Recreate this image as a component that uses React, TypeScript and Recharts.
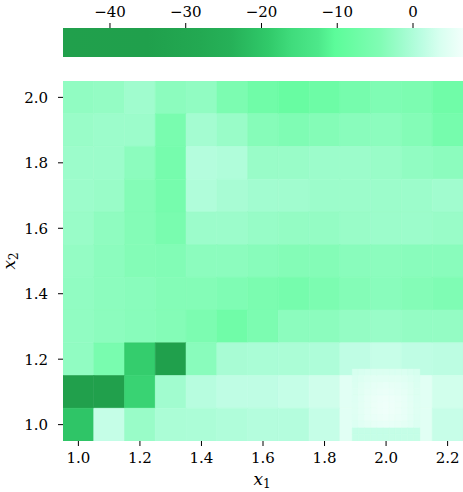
import React from 'react';
import { ScatterChart, Scatter, XAxis, YAxis, ReferenceArea } from 'recharts';

// coarse grid (cell centres)
const x1Centers = [1.0, 1.1, 1.2, 1.3, 1.4, 1.5, 1.6, 1.7, 1.8, 1.9, 2.0, 2.1, 2.2];
const x2Centers = [2.0, 1.9, 1.8, 1.7, 1.6, 1.5, 1.4, 1.3, 1.2, 1.1, 1.0];
const zGrid = [
  [-2.8, -2.5, -1.3, -3.2, -2.8, -5.0, -7.0, -8.3, -7.5, -6.0, -4.5, -5.0, -7.0],
  [-2.0, -1.7, -1.7, -5.5, -1.0, -2.0, -3.8, -4.5, -4.0, -3.5, -3.2, -4.0, -6.0],
  [-1.7, -1.7, -3.2, -6.0, 0.5, 0.2, -2.0, -2.0, -1.7, -1.7, -2.0, -2.8, -3.2],
  [-1.7, -2.0, -4.0, -6.0, 0.2, -0.6, -1.1, -1.2, -1.7, -1.7, -1.7, -1.7, -1.2],
  [-2.0, -3.0, -4.0, -5.5, -1.7, -1.7, -2.2, -2.5, -2.5, -2.0, -1.7, -1.7, -2.0],
  [-2.5, -3.2, -4.0, -4.2, -3.2, -3.2, -3.6, -4.0, -4.0, -3.5, -3.2, -3.5, -3.5],
  [-2.8, -3.2, -3.5, -4.0, -4.0, -4.5, -5.2, -6.0, -5.0, -4.0, -3.5, -4.0, -4.5],
  [-2.8, -3.2, -3.6, -4.0, -5.0, -7.0, -5.0, -3.2, -3.2, -2.5, -2.0, -2.5, -2.5],
  [-2.8, -5.5, -18.5, -38.0, -3.5, -0.6, -0.4, -0.3, 0.0, 1.5, 2.2, 1.5, 1.2],
  [-44.0, -44.0, -17.5, -1.2, 0.8, 1.5, 1.5, 2.0, 2.8, 4.6, 4.6, 4.6, 3.0],
  [-20.0, 2.0, -2.0, -0.3, -0.2, 0.2, 0.5, 0.5, 2.0, 4.6, 4.6, 4.6, 2.2],
];

// refined patch around (2.0, 1.05)
const fineX1 = [1.9, 1.92, 1.94, 1.96, 1.98, 2.0, 2.02, 2.04, 2.06, 2.08, 2.1];
const fineX2 = [1.16, 1.14, 1.12, 1.1, 1.08, 1.06, 1.04, 1.02, 1.0, 0.98, 0.96];
const zFine = [
  [3.4, 3.6, 3.8, 3.9, 4.0, 4.0, 4.0, 3.9, 3.8, 3.6, 3.4],
  [3.8, 4.2, 4.5, 4.7, 4.8, 4.8, 4.8, 4.7, 4.5, 4.2, 3.8],
  [4.0, 4.5, 4.9, 5.2, 5.3, 5.4, 5.3, 5.2, 4.9, 4.5, 4.0],
  [4.2, 4.8, 5.2, 5.5, 5.7, 5.8, 5.7, 5.5, 5.2, 4.8, 4.2],
  [4.3, 4.9, 5.4, 5.8, 6.0, 6.1, 6.0, 5.8, 5.4, 4.9, 4.3],
  [4.4, 5.0, 5.5, 5.9, 6.1, 6.2, 6.1, 5.9, 5.5, 5.0, 4.4],
  [4.4, 5.0, 5.5, 5.9, 6.1, 6.2, 6.1, 5.9, 5.5, 5.0, 4.4],
  [4.3, 4.9, 5.4, 5.7, 5.9, 6.0, 5.9, 5.7, 5.4, 4.9, 4.3],
  [4.1, 4.6, 5.0, 5.3, 5.5, 5.6, 5.5, 5.3, 5.0, 4.6, 4.1],
  [2.0, 2.0, 2.0, 2.0, 2.0, 2.0, 2.0, 2.0, 2.0, 2.0, 2.0],
  [2.0, 2.0, 2.0, 2.0, 2.0, 2.0, 2.0, 2.0, 2.0, 2.0, 2.0],
];

const xTicks = [1.0, 1.2, 1.4, 1.6, 1.8, 2.0, 2.2];
const yTicks = [1.0, 1.2, 1.4, 1.6, 1.8, 2.0];
const cbarTicks = [-40, -30, -20, -10, 0];
const cbarMin = -46.2;
const cbarMax = 6.6;

const cmapStops: [number, string][] = [
  [-46.2, '#21a04c'],
  [-35, '#20a04c'],
  [-28, '#23a952'],
  [-24, '#26b158'],
  [-21, '#2cc063'],
  [-19, '#31ca6a'],
  [-16, '#40dc7c'],
  [-12.5, '#4de88a'],
  [-10.3, '#5cfc9a'],
  [-8.3, '#68fca2'],
  [-4.4, '#80fcb4'],
  [-1.7, '#9cfccb'],
  [0.9, '#b8fde0'],
  [3.6, '#d8fff0'],
  [6.6, '#f2fffb'],
];

const hexToRgb = (h: string) => [1, 3, 5].map((i) => parseInt(h.slice(i, i + 2), 16));

const colorFor = (v: number) => {
  if (v <= cmapStops[0][0]) return cmapStops[0][1];
  for (let i = 1; i < cmapStops.length; i++) {
    const [v1, c1] = cmapStops[i];
    if (v <= v1) {
      const [v0, c0] = cmapStops[i - 1];
      const t = (v - v0) / (v1 - v0);
      const a = hexToRgb(c0);
      const b = hexToRgb(c1);
      const rgb = a.map((x, k) => Math.round(x + (b[k] - x) * t));
      return `rgb(${rgb.join(',')})`;
    }
  }
  return cmapStops[cmapStops.length - 1][1];
};

const font = '"DejaVu Serif", "Liberation Serif", serif';
const tickStyle = { fill: '#000', fontSize: 15, fontFamily: font };

const fmtMinus = (v: number) => String(v).replace('-', '\u2212');

// invisible anchor points so the axes have data
const centerPoints = x2Centers.flatMap((y) => x1Centers.map((x) => ({ x, y })));
const cbarPoints = cbarTicks.map((v) => ({ v, y: 0.5 }));

const NoShape = () => <g />;

export default function App() {
  const cells: React.ReactNode[] = [];
  zGrid.forEach((row, r) =>
    row.forEach((z, c) => {
      const x = x1Centers[c];
      const y = x2Centers[r];
      const col = colorFor(z);
      cells.push(
        <ReferenceArea
          key={`c-${r}-${c}`}
          x1={x - 0.05}
          x2={x + 0.05}
          y1={y - 0.05}
          y2={y + 0.05}
          fill={col}
          fillOpacity={1}
          stroke={col}
          strokeWidth={0.6}
          ifOverflow="hidden"
        />
      );
    })
  );
  zFine.forEach((row, r) =>
    row.forEach((z, c) => {
      const x = fineX1[c];
      const y = fineX2[r];
      const col = colorFor(z);
      cells.push(
        <ReferenceArea
          key={`f-${r}-${c}`}
          x1={x - 0.01}
          x2={x + 0.01}
          y1={y - 0.01}
          y2={y + 0.01}
          fill={col}
          fillOpacity={1}
          stroke={col}
          strokeWidth={0.4}
          ifOverflow="hidden"
        />
      );
    })
  );

  return (
    <div style={{ position: 'absolute', left: 0, top: 0, width: 463, height: 492, background: '#fff' }}>
      {/* colorbar */}
      <div style={{ position: 'absolute', left: 0, top: 0 }}>
        <ScatterChart width={463} height={57} margin={{ top: 0, right: 0, bottom: 0, left: 63 }}>
          <defs>
            <linearGradient id="cbar" x1="0" y1="0" x2="1" y2="0">
              {cmapStops.map(([v, c]) => (
                <stop key={v} offset={(v - cbarMin) / (cbarMax - cbarMin)} stopColor={c} />
              ))}
            </linearGradient>
          </defs>
          <XAxis
            type="number"
            dataKey="v"
            orientation="top"
            domain={[cbarMin, cbarMax]}
            ticks={cbarTicks}
            height={28}
            axisLine={false}
            tickLine={{ stroke: '#000' }}
            tickSize={5}
            tickMargin={6}
            tick={tickStyle}
            tickFormatter={fmtMinus}
            allowDataOverflow
          />
          <YAxis type="number" dataKey="y" domain={[0, 1]} hide />
          <ReferenceArea x1={cbarMin} x2={cbarMax} y1={0} y2={1} fill="url(#cbar)" fillOpacity={1} ifOverflow="hidden" />
          <Scatter data={cbarPoints} shape={NoShape} isAnimationActive={false} />
        </ScatterChart>
      </div>

      {/* heatmap */}
      <div style={{ position: 'absolute', left: 0, top: 0 }}>
        <ScatterChart width={463} height={492} margin={{ top: 81, right: 0, bottom: 0, left: 0 }}>
          <XAxis
            type="number"
            dataKey="x"
            domain={[0.95, 2.25]}
            ticks={xTicks}
            height={51}
            axisLine={false}
            tickLine={{ stroke: '#000' }}
            tickSize={5}
            tickMargin={6}
            tick={tickStyle}
            tickFormatter={(v: number) => v.toFixed(1)}
            allowDataOverflow
          />
          <YAxis
            type="number"
            dataKey="y"
            domain={[0.95, 2.05]}
            ticks={yTicks}
            width={63}
            axisLine={false}
            tickLine={{ stroke: '#000' }}
            tickSize={5}
            tickMargin={10}
            tick={tickStyle}
            tickFormatter={(v: number) => v.toFixed(1)}
            allowDataOverflow
          />
          {cells}
          <Scatter data={centerPoints} shape={NoShape} isAnimationActive={false} />
        </ScatterChart>
      </div>

      {/* axis labels */}
      <div
        style={{
          position: 'absolute',
          left: 262,
          top: 480,
          transform: 'translate(-50%, -50%)',
          fontFamily: font,
          fontSize: 17,
          fontStyle: 'italic',
          lineHeight: 1,
          whiteSpace: 'nowrap',
        }}
      >
        x<sub style={{ fontSize: 12, fontStyle: 'normal', verticalAlign: -3 }}>1</sub>
      </div>
      <div
        style={{
          position: 'absolute',
          left: 10,
          top: 261,
          transform: 'translate(-50%, -50%) rotate(-90deg)',
          fontFamily: font,
          fontSize: 17,
          fontStyle: 'italic',
          lineHeight: 1,
          whiteSpace: 'nowrap',
        }}
      >
        x<sub style={{ fontSize: 12, fontStyle: 'normal', verticalAlign: -3 }}>2</sub>
      </div>
    </div>
  );
}
